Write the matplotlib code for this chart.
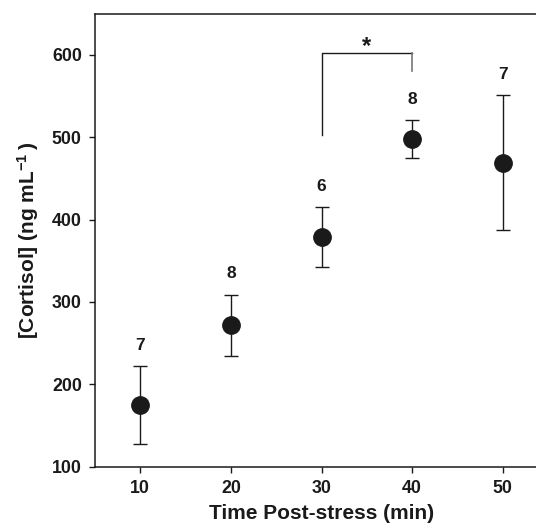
import matplotlib

matplotlib.use("Agg")
import matplotlib.pyplot as plt

# data
time_min = [10, 20, 30, 40, 50]
cortisol = [175, 272, 379, 498, 469]
cortisol_err = [47, 37, 36, 23, 82]
n_fish = ["7", "8", "6", "8", "7"]
x_ticks = [10, 20, 30, 40, 50]
y_ticks = [100, 200, 300, 400, 500, 600]
bracket_pair = (30, 40)
bracket_y = 602
bracket_left_low = 503
bracket_right_low = 580

plt.rcParams["font.family"] = ["Liberation Sans", "DejaVu Sans"]
plt.rcParams["font.weight"] = "bold"
plt.rcParams["mathtext.fontset"] = "custom"
plt.rcParams["mathtext.rm"] = "Liberation Sans:bold"
plt.rcParams["mathtext.bf"] = "Liberation Sans:bold"
plt.rcParams["mathtext.default"] = "bf"

fig = plt.figure(figsize=(5.36, 5.25), dpi=100)
ax = fig.add_axes([95 / 536, 1 - 466.7 / 525, 453 / 536, 453 / 525])

ax.errorbar(time_min, cortisol, yerr=cortisol_err, fmt="o", color="#1a1a1a",
            ecolor="#1a1a1a", elinewidth=1.0, capsize=5, capthick=1.0,
            markersize=12.5, zorder=3)

for x, y, e, n in zip(time_min, cortisol, cortisol_err, n_fish):
    ax.text(x, y + e + 25, n, ha="center", va="center", fontsize=12.5,
            fontweight="bold", color="#1a1a1a")

# significance bracket between 30 and 40 min
x0, x1 = bracket_pair
ax.plot([x0, x0, x1], [bracket_left_low, bracket_y, bracket_y], color="#1a1a1a", lw=1.0)
ax.plot([x1, x1], [bracket_y, bracket_right_low], color="#777777", lw=1.2)
ax.text((x0 + x1) / 2, bracket_y + 8, "*", ha="center", va="center", fontsize=17,
        fontweight="bold", color="#1a1a1a")

ax.set_xlim(5, 55)
ax.set_ylim(100, 650)
ax.set_xticks(x_ticks)
ax.set_yticks(y_ticks)
ax.tick_params(direction="out", length=4.5, width=1.0, labelsize=12.8, pad=5,
               colors="#1a1a1a")
for lab in ax.get_xticklabels() + ax.get_yticklabels():
    lab.set_fontweight("bold")
ax.spines["right"].set_visible(False)
for s in ("left", "top", "bottom"):
    ax.spines[s].set_linewidth(1.1)
    ax.spines[s].set_color("#1a1a1a")

ax.set_xlabel("Time Post-stress (min)", fontsize=15, fontweight="bold", labelpad=5,
              color="#1a1a1a")
ax.set_ylabel(r"[Cortisol] (ng mL$^{-1}\,$)", fontsize=15, fontweight="bold", labelpad=8,
              color="#1a1a1a")

fig.savefig("out.png", dpi=100)
